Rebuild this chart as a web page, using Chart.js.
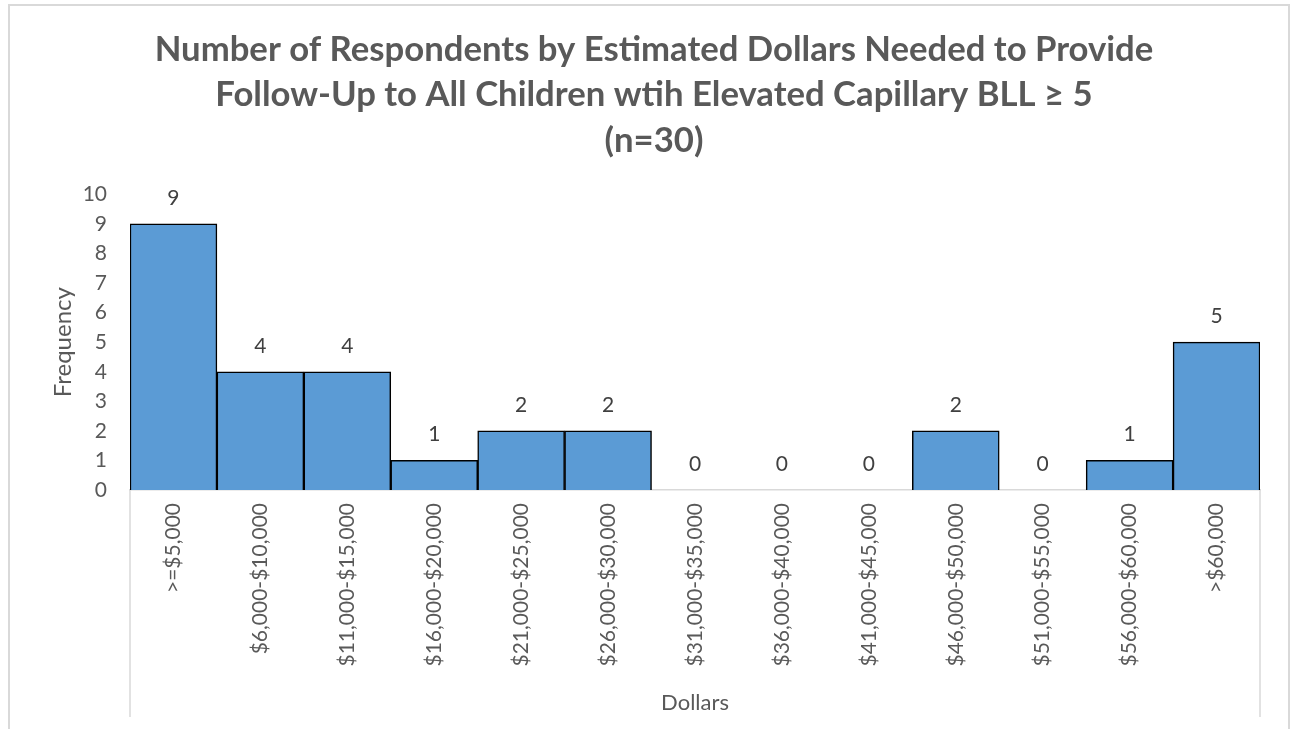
<!DOCTYPE html>
<html lang="en">
<head>
<meta charset="UTF-8">
<title>Estimated Dollars Needed for Follow-Up</title>
<script src="https://cdn.jsdelivr.net/npm/chart.js@4.4.1/dist/chart.umd.min.js"></script>
<style>
    html, body { margin: 0; padding: 0; background: #ffffff; }
    .chart-wrap { position: relative; width: 1291px; height: 729px; overflow: hidden; }
    .chart-frame {
        position: absolute; left: 8px; top: 4px; width: 1278px; height: 760px;
        border: 2px solid #d9d9d9; pointer-events: none;
    }
</style>
</head>
<body>
<div class="chart-wrap">
    <canvas id="dollars-chart" width="1291" height="729"></canvas>
    <div class="chart-frame"></div>
</div>
<script>
const titleLines = [
    'Number of Respondents by Estimated Dollars Needed to Provide',
    'Follow-Up to All Children wtih Elevated Capillary BLL \u2265 5',
    '(n=30)'
];
const dollarRanges = [
    '>=$5,000', '$6,000-$10,000', '$11,000-$15,000', '$16,000-$20,000',
    '$21,000-$25,000', '$26,000-$30,000', '$31,000-$35,000', '$36,000-$40,000',
    '$41,000-$45,000', '$46,000-$50,000', '$51,000-$55,000', '$56,000-$60,000',
    '>$60,000'
];
const frequencies = [9, 4, 4, 1, 2, 2, 0, 0, 0, 2, 0, 1, 5];
const frequencyTicks = [0, 1, 2, 3, 4, 5, 6, 7, 8, 9, 10];

const FONT = 'Lato';
const textGray = '#595959';
const lineGray = '#d9d9d9';

// value labels above each bar
const barValueLabels = {
    id: 'barValueLabels',
    afterDatasetsDraw(chart) {
        const ctx = chart.ctx;
        const meta = chart.getDatasetMeta(0);
        ctx.save();
        ctx.font = `21px ${FONT}`;
        ctx.fillStyle = '#404040';
        ctx.textAlign = 'center';
        ctx.textBaseline = 'middle';
        meta.data.forEach((bar, i) => {
            ctx.fillText(String(frequencies[i]), bar.x, bar.y - 26);
        });
        ctx.restore();
    }
};

// Excel-style category box edges below the axis
const categoryBoxEdges = {
    id: 'categoryBoxEdges',
    afterDraw(chart) {
        const { ctx, chartArea } = chart;
        const bottom = chart.scales.x.bottom - 1;
        ctx.save();
        ctx.strokeStyle = lineGray;
        ctx.lineWidth = 1.5;
        ctx.beginPath();
        [chartArea.left, chartArea.right].forEach(x => {
            ctx.moveTo(x, chartArea.bottom);
            ctx.lineTo(x, bottom);
        });
        ctx.stroke();
        ctx.restore();
    }
};

new Chart(document.getElementById('dollars-chart'), {
    type: 'bar',
    data: {
        labels: dollarRanges,
        datasets: [{
            label: 'Frequency',
            data: frequencies,
            backgroundColor: '#5b9bd5',
            borderColor: '#000000',
            borderWidth: 1.5,
            barPercentage: 1,
            categoryPercentage: 1
        }]
    },
    options: {
        responsive: false,
        devicePixelRatio: 1,
        animation: false,
        layout: { padding: { left: 48, right: 31, top: 0, bottom: 11 } },
        plugins: {
            legend: { display: false },
            tooltip: { enabled: false },
            title: {
                display: true,
                text: titleLines,
                color: textGray,
                font: { family: FONT, size: 34.7, weight: 'bold', lineHeight: 1.31 },
                padding: { top: 27, bottom: 31 }
            }
        },
        scales: {
            x: {
                grid: { display: false, drawTicks: false },
                border: { display: true, color: lineGray, width: 1.5 },
                ticks: {
                    color: textGray,
                    font: { family: FONT, size: 21 },
                    minRotation: 90,
                    maxRotation: 90,
                    padding: 13,
                    autoSkip: false
                },
                title: {
                    display: true,
                    text: 'Dollars',
                    color: textGray,
                    font: { family: FONT, size: 22 },
                    padding: { top: 4, bottom: 2 }
                },
                afterFit: scale => { scale.height = 228; }
            },
            y: {
                min: 0,
                max: 10,
                afterBuildTicks: scale => {
                    scale.ticks = frequencyTicks.map(v => ({ value: v }));
                },
                grid: { display: false, drawTicks: false },
                border: { display: false },
                ticks: {
                    color: textGray,
                    font: { family: FONT, size: 21 },
                    padding: 23
                },
                title: {
                    display: true,
                    text: 'Frequency',
                    color: textGray,
                    font: { family: FONT, size: 24 },
                    padding: { top: 1, bottom: 4 }
                },
                afterFit: scale => { scale.width = 82; }
            }
        }
    },
    plugins: [barValueLabels, categoryBoxEdges]
});
</script>
</body>
</html>
